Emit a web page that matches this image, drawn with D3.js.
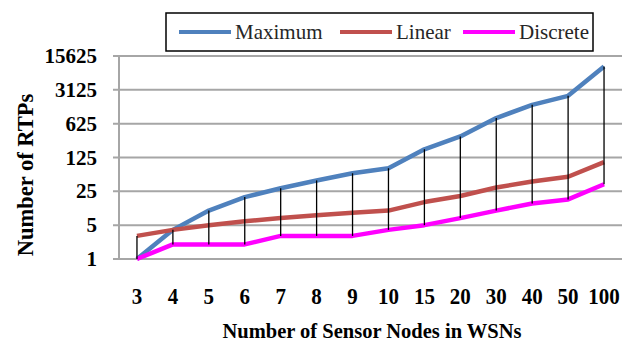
<!DOCTYPE html>
<html>
<head>
<meta charset="utf-8">
<script src="https://cdn.jsdelivr.net/npm/d3@7"></script>
<style>
  body { margin: 0; background: #fff; }
</style>
</head>
<body>
<svg id="chart" width="628" height="341"></svg>
<script>
// valeurs
const nodes = ["3", "4", "5", "6", "7", "8", "9", "10", "15", "20", "30", "40", "50", "100"];
const maximum = [1, 4, 10, 19, 29, 42, 59, 75, 185, 340, 815, 1530, 2350, 9500];
const linear = [3, 4, 5, 6, 7, 8, 9, 10, 15, 20, 30, 40, 50, 100];
const discrete = [1, 2, 2, 2, 3, 3, 3, 4, 5, 7, 10, 14, 17, 35];
const yTicks = [1, 5, 25, 125, 625, 3125, 15625];

const series = [
  { name: "Maximum", values: maximum, color: "#4f81bd" },
  { name: "Linear", values: linear, color: "#c0504d" },
  { name: "Discrete", values: discrete, color: "#ff00ff" }
];

const serif = "'Liberation Serif'";
const svg = d3.select("#chart");
const plotLeft = 119, plotRight = 622, plotTop = 56, plotBottom = 259;

const x = d3.scaleBand().domain(nodes).range([plotLeft, plotRight]);
const y = d3.scaleLog().base(5).domain([1, 15625]).range([plotBottom, plotTop]);
const cx = d => x(d) + x.bandwidth() / 2;

// grille horizontale
svg.append("g")
  .selectAll("line")
  .data(yTicks)
  .join("line")
  .attr("x1", plotLeft - 6)
  .attr("x2", plotRight)
  .attr("y1", d => y(d))
  .attr("y2", d => y(d))
  .attr("stroke", "#a6a6a6")
  .attr("stroke-width", 2);

// axe vertical
svg.append("line")
  .attr("x1", plotLeft).attr("x2", plotLeft)
  .attr("y1", plotTop).attr("y2", plotBottom)
  .attr("stroke", "#a6a6a6")
  .attr("stroke-width", 2);

// labels axe Y
svg.append("g")
  .selectAll("text")
  .data(yTicks)
  .join("text")
  .attr("x", 97)
  .attr("y", d => y(d) + 7)
  .attr("text-anchor", "end")
  .style("font-family", serif)
  .style("font-size", "21px")
  .style("font-weight", "bold")
  .text(d => d);

// labels axe X
svg.append("g")
  .selectAll("text")
  .data(nodes)
  .join("text")
  .attr("x", d => cx(d))
  .attr("y", 304)
  .attr("text-anchor", "middle")
  .style("font-family", serif)
  .style("font-size", "21px")
  .style("font-weight", "bold")
  .attr("transform", "translate(0,304) scale(1,1.12) translate(0,-304)")
  .text(d => d);

// titres des axes
svg.append("text")
  .attr("x", 372)
  .attr("y", 338)
  .attr("text-anchor", "middle")
  .style("font-family", serif)
  .style("font-size", "20.5px")
  .style("font-weight", "bold")
  .text("Number of Sensor Nodes in WSNs");

svg.append("text")
  .attr("transform", "translate(33,175) rotate(-90)")
  .attr("text-anchor", "middle")
  .style("font-family", serif)
  .style("font-size", "22.5px")
  .style("font-weight", "bold")
  .text("Number of RTPs");

// courbes
const line = d3.line()
  .x((d, i) => cx(nodes[i]))
  .y(d => y(d));

svg.append("g")
  .selectAll("path")
  .data(series)
  .join("path")
  .attr("d", d => line(d.values))
  .attr("fill", "none")
  .attr("stroke", d => d.color)
  .attr("stroke-width", 4.5)
  .attr("stroke-linejoin", "round");

// lignes haut-bas
svg.append("g")
  .selectAll("line")
  .data(nodes)
  .join("line")
  .attr("x1", d => cx(d))
  .attr("x2", d => cx(d))
  .attr("y1", (d, i) => y(d3.max(series, s => s.values[i])))
  .attr("y2", (d, i) => y(d3.min(series, s => s.values[i])))
  .attr("stroke", "#000")
  .attr("stroke-width", 1.3);

// légende
const legend = svg.append("g");
legend.append("rect")
  .attr("x", 166).attr("y", 13)
  .attr("width", 427).attr("height", 38)
  .attr("fill", "#fff")
  .attr("stroke", "#000")
  .attr("stroke-width", 1.5);

const legendX = [179, 340, 463];
series.forEach((s, i) => {
  legend.append("line")
    .attr("x1", legendX[i]).attr("x2", legendX[i] + 52)
    .attr("y1", 32).attr("y2", 32)
    .attr("stroke", s.color)
    .attr("stroke-width", 4);
  legend.append("text")
    .attr("x", legendX[i] + 56)
    .attr("y", 39)
    .style("font-family", serif)
    .style("font-size", "21px")
    .attr("fill", "#262626")
    .text(s.name);
});
</script>
</body>
</html>
